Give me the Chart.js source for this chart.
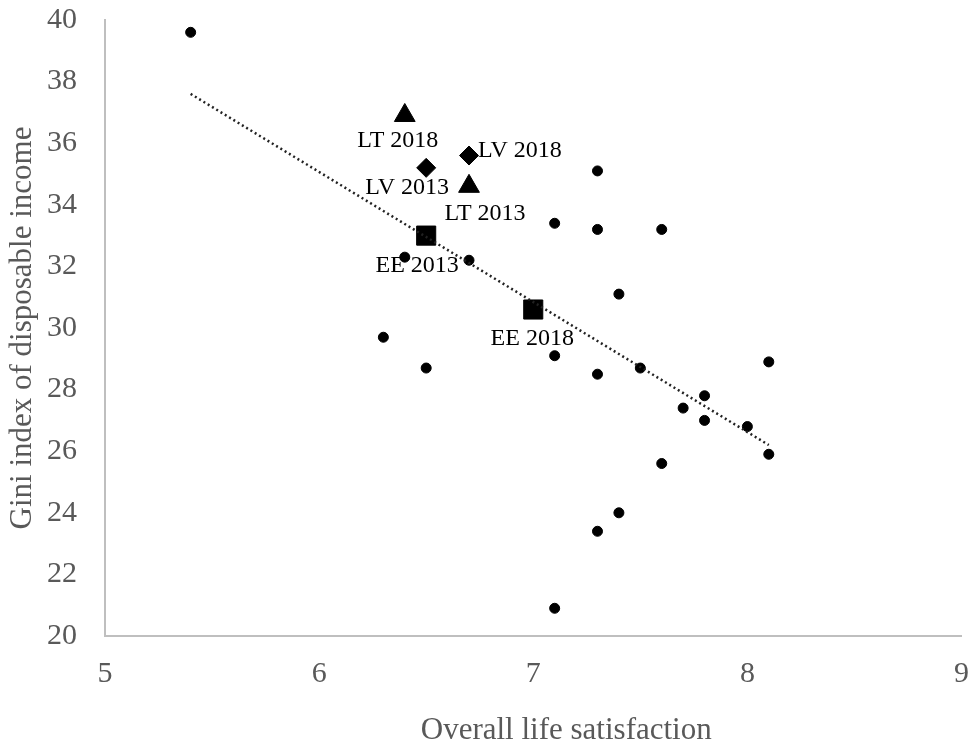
<!DOCTYPE html>
<html>
<head>
<meta charset="utf-8">
<script src="https://cdn.jsdelivr.net/npm/chart.js@4"></script>
<style>
  html, body { margin: 0; padding: 0; background: #fff; overflow: hidden; }
  #wrap { width: 976px; height: 745px; }
  canvas { display: block; }
</style>
</head>
<body>
<div id="wrap"><canvas id="giniChart" width="976" height="745"></canvas></div>
<script>
// Other countries (circles)
const otherX = [5.4, 6.3, 6.4, 6.5, 6.7, 7.1, 7.1, 7.1, 7.3, 7.3, 7.3, 7.3, 7.4, 7.4, 7.5, 7.6, 7.6, 7.7, 7.8, 7.8, 8.0, 8.1, 8.1];
const otherY = [39.6, 29.7, 32.3, 28.7, 32.2, 33.4, 29.1, 20.9, 35.1, 33.2, 28.5, 23.4, 31.1, 24.0, 28.7, 33.2, 25.6, 27.4, 27.8, 27.0, 26.8, 28.9, 25.9];

// Baltic states
const ltLabels = ['LT 2018', 'LT 2013'];
const ltX = [6.4, 6.7];
const ltY = [36.9, 34.6];

const lvLabels = ['LV 2013', 'LV 2018'];
const lvX = [6.5, 6.7];
const lvY = [35.2, 35.6];

const eeLabels = ['EE 2013', 'EE 2018'];
const eeX = [6.5, 7.0];
const eeY = [33.0, 30.6];

// Linear trend
const trendX = [5.4, 8.1];
const trendY = [37.6, 26.2];

const xTicks = [5, 6, 7, 8, 9];
const yTicks = [20, 22, 24, 26, 28, 30, 32, 34, 36, 38, 40];

const xTitle = 'Overall life satisfaction';
const yTitle = 'Gini index of disposable income';

const toPoints = (xs, ys) => xs.map((x, i) => ({ x, y: ys[i] }));

// offsets of the text labels from their marker (dx, dy, align)
const labelOffsets = {
    'LT 2018': [-7, 25, 'center'],
    'LT 2013': [16, 27, 'center'],
    'LV 2013': [-19, 20, 'center'],
    'LV 2018': [9, -5, 'left'],
    'EE 2013': [-9, 30, 'center'],
    'EE 2018': [-1, 29, 'center']
};

const serif = '"Liberation Serif", "Times New Roman", serif';

// point labels + x axis title (sits a bit right of centre in the original)
const extraText = {
    id: 'extraText',
    afterDatasetsDraw(chart) {
        const ctx = chart.ctx;
        ctx.save();
        ctx.font = '24px ' + serif;
        ctx.fillStyle = '#000';
        ctx.textBaseline = 'middle';
        chart.data.datasets.forEach((ds, di) => {
            if (!ds.pointNames) return;
            const meta = chart.getDatasetMeta(di);
            meta.data.forEach((el, i) => {
                const name = ds.pointNames[i];
                const off = labelOffsets[name];
                ctx.textAlign = off[2];
                ctx.fillText(name, el.x + off[0], el.y + off[1]);
            });
        });

        const area = chart.chartArea;
        ctx.font = '31px ' + serif;
        ctx.fillStyle = '#595959';
        ctx.textAlign = 'center';
        ctx.fillText(xTitle, (area.left + area.right) / 2 + 33, area.bottom + 95);
        ctx.restore();
    }
};

new Chart(document.getElementById('giniChart'), {
    type: 'scatter',
    data: {
        datasets: [
            {
                label: 'Trend',
                type: 'line',
                data: toPoints(trendX, trendY),
                borderColor: '#222',
                borderWidth: 2.5,
                borderDash: [2, 3],
                pointRadius: 0,
                fill: false
            },
            {
                label: 'Others',
                data: toPoints(otherX, otherY),
                pointStyle: 'circle',
                pointRadius: 5,
                backgroundColor: '#000',
                borderColor: '#000'
            },
            {
                label: 'LT',
                data: toPoints(ltX, ltY),
                pointNames: ltLabels,
                pointStyle: 'triangle',
                pointRadius: 12,
                backgroundColor: '#000',
                borderColor: '#000'
            },
            {
                label: 'LV',
                data: toPoints(lvX, lvY),
                pointNames: lvLabels,
                pointStyle: 'rectRot',
                pointRadius: 9.5,
                backgroundColor: '#000',
                borderColor: '#000'
            },
            {
                label: 'EE',
                data: toPoints(eeX, eeY),
                pointNames: eeLabels,
                pointStyle: 'rect',
                pointRadius: 13.5,
                backgroundColor: '#000',
                borderColor: '#000'
            }
        ]
    },
    options: {
        responsive: false,
        animation: false,
        layout: { padding: { top: 20, right: 5.5, left: 0, bottom: 0 } },
        plugins: {
            legend: { display: false },
            tooltip: { enabled: false }
        },
        scales: {
            x: {
                type: 'linear',
                min: 5,
                max: 9,
                afterBuildTicks: s => { s.ticks = xTicks.map(v => ({ value: v })); },
                afterFit: s => { s.height = 109; s.paddingRight = 0; },
                grid: { display: false, tickLength: 20 },
                border: { display: true, color: '#bfbfbf', width: 2 },
                ticks: { color: '#595959', font: { family: serif, size: 30 }, padding: 0 },
                title: { display: false }
            },
            y: {
                min: 20,
                max: 40,
                afterBuildTicks: s => { s.ticks = yTicks.map(v => ({ value: v })); },
                afterFit: s => { s.width = 105; s.paddingTop = 0; },
                grid: { display: false },
                border: { display: true, color: '#bfbfbf', width: 2 },
                ticks: { color: '#595959', font: { family: serif, size: 30 }, padding: 20 },
                title: {
                    display: true,
                    text: yTitle,
                    color: '#595959',
                    font: { family: serif, size: 31 },
                    padding: { bottom: 0 }
                }
            }
        }
    },
    plugins: [extraText]
});
</script>
</body>
</html>
